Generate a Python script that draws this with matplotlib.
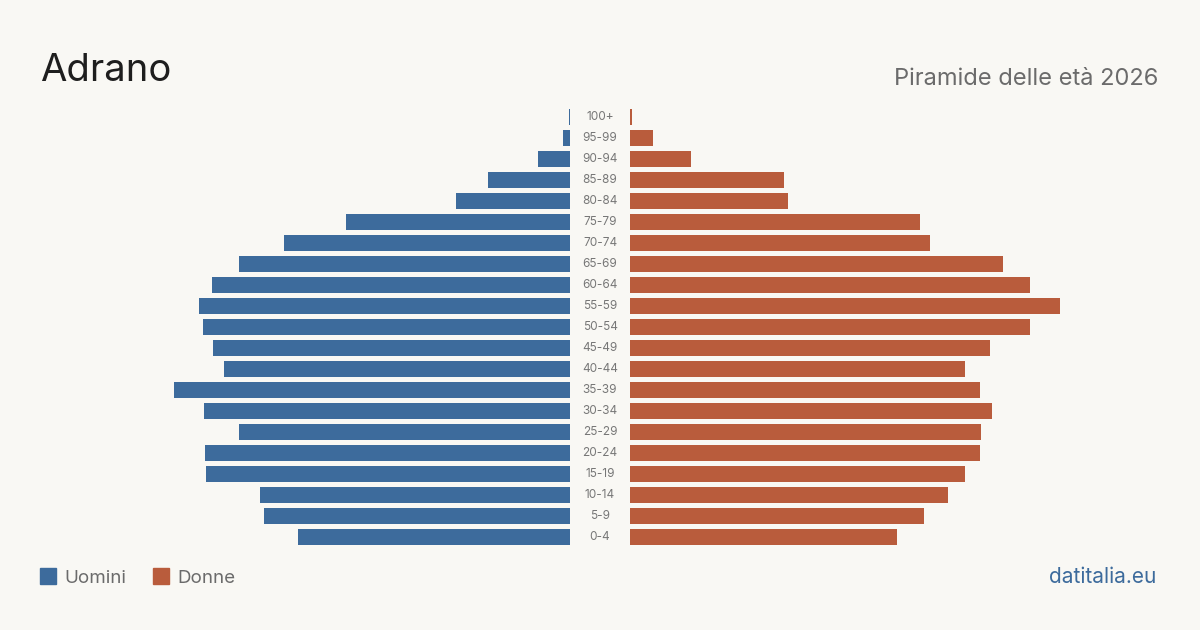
import numpy as np
import matplotlib.pyplot as plt
from matplotlib.patches import Rectangle

ages = ["0-4", "5-9", "10-14", "15-19", "20-24", "25-29", "30-34", "35-39",
        "40-44", "45-49", "50-54", "55-59", "60-64", "65-69", "70-74", "75-79",
        "80-84", "85-89", "90-94", "95-99", "100+"]
uomini = [816, 918, 930, 1092, 1095, 993, 1098, 1188, 1038, 1071, 1101, 1113,
          1074, 993, 858, 672, 342, 246, 96, 21, 3]
donne = [801, 882, 954, 1005, 1050, 1053, 1086, 1050, 1005, 1080, 1200, 1290,
         1200, 1119, 900, 870, 474, 462, 183, 69, 6]

BG = "#f9f8f4"
BLUE = "#3d6b9c"
ORANGE = "#b95c3c"
FONT = "Inter"

W, H = 1200, 630
fig = plt.figure(figsize=(12, 6.3), dpi=100, facecolor=BG)

y = np.arange(len(ages))
top = 106.5
bottom = 547.5
span = 530  # pixels per side
xmax = span * 3

axl = fig.add_axes([40 / W, 1 - bottom / H, span / W, (bottom - top) / H])
axr = fig.add_axes([630 / W, 1 - bottom / H, span / W, (bottom - top) / H])

axl.barh(y, uomini, height=0.8, color=BLUE)
axr.barh(y, donne, height=0.8, color=ORANGE)
axl.set_xlim(xmax, 0)
axr.set_xlim(0, xmax)
for ax in (axl, axr):
    ax.set_ylim(-0.5, len(ages) - 0.5)
    ax.axis("off")
    ax.set_facecolor("none")

# age labels in the gap
for i, a in enumerate(ages):
    yf = 1 - (bottom - (i + 0.5) * 21) / H
    fig.text(600 / W, yf, a, ha="center", va="center", fontsize=8.5,
             color="#777777", family=FONT)

fig.text(40 / W, 1 - 81 / H, "Adrano", fontsize=27.5, color="#1e1e1e",
         family=FONT, ha="left", va="baseline")
fig.text(1158 / W, 1 - 85 / H, "Piramide delle età 2026", fontsize=17,
         color="#6b6b6b", family=FONT, ha="right", va="baseline")

# legend
fig.patches.append(Rectangle((40 / W, 1 - 584 / H), 16 / W, 16 / H,
                             transform=fig.transFigure, color=BLUE))
fig.text(64 / W, 1 - 583 / H, "Uomini", fontsize=13.5, color="#6b6b6b",
         family=FONT, ha="left", va="baseline")
fig.patches.append(Rectangle((153 / W, 1 - 584 / H), 16 / W, 16 / H,
                             transform=fig.transFigure, color=ORANGE))
fig.text(177 / W, 1 - 583 / H, "Donne", fontsize=13.5, color="#6b6b6b",
         family=FONT, ha="left", va="baseline")

fig.text(1156 / W, 1 - 583 / H, "datitalia.eu", fontsize=15, color=BLUE,
         family=FONT, ha="right", va="baseline")

fig.savefig("out.png", dpi=100, facecolor=BG)
